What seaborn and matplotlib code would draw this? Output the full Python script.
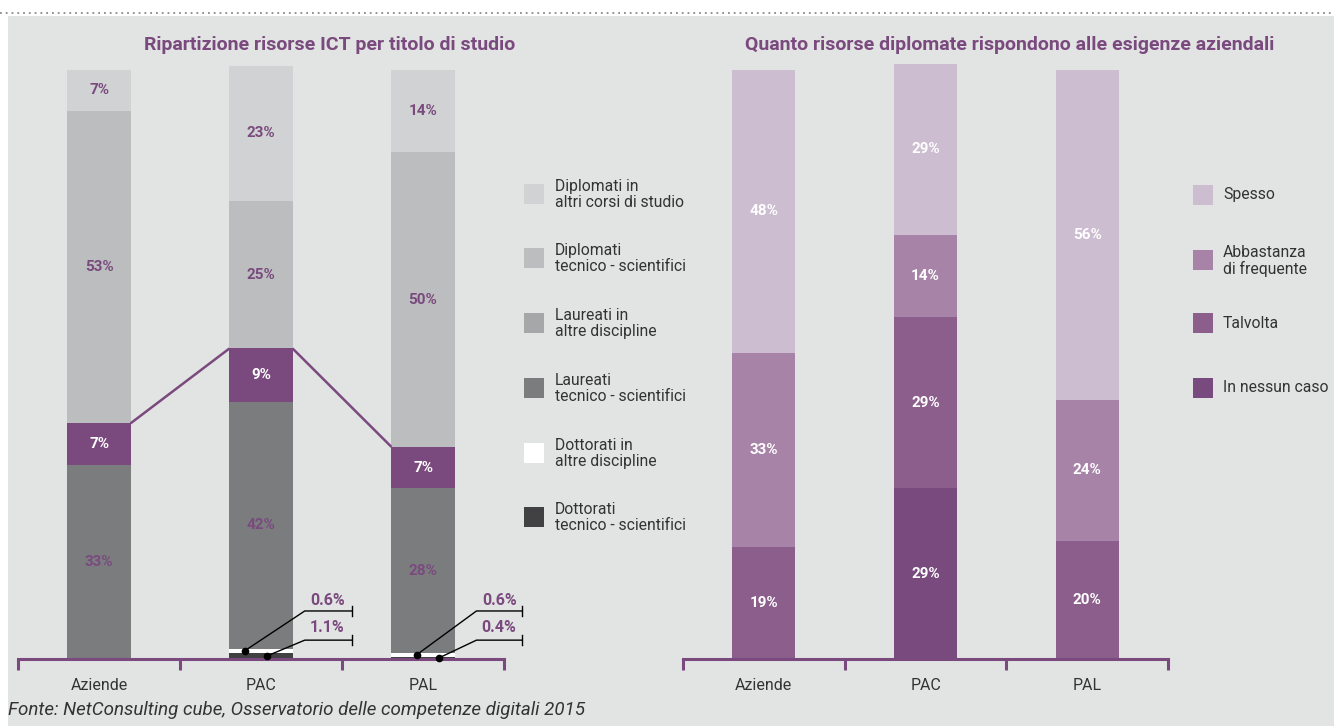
import numpy as np
import pandas as pd
import matplotlib
matplotlib.use("Agg")
import matplotlib.pyplot as plt
import seaborn as sns
from matplotlib.patches import Rectangle
from matplotlib.lines import Line2D

plt.rcParams['font.family'] = ['Roboto', 'DejaVu Sans']

# ---------------- data ----------------
categories = ["Aziende", "PAC", "PAL"]

# left chart (bottom -> top)
edu_labels = ["Dottorati\ntecnico - scientifici", "Dottorati in\naltre discipline",
              "Laureati\ntecnico - scientifici", "Laureati in\naltre discipline",
              "Diplomati\ntecnico - scientifici", "Diplomati in\naltri corsi di studio"]
dott_tec = [0, 1.1, 0.4]
dott_altre = [0, 0.6, 0.6]
laur_tec = [33, 42, 28]
laur_altre = [7, 9, 7]
dipl_tec = [53, 25, 50]
dipl_altri = [7, 23, 14]

# right chart (bottom -> top)
resp_labels = ["In nessun caso", "Talvolta", "Abbastanza\ndi frequente", "Spesso"]
nessun = [0, 29, 0]
talvolta = [19, 29, 20]
abbastanza = [33, 14, 24]
spesso = [48, 29, 56]

title_left = "Ripartizione risorse ICT per titolo di studio"
title_right = "Quanto risorse diplomate rispondono alle esigenze aziendali"
source = "Fonte: NetConsulting cube, Osservatorio delle competenze digitali 2015"

# ---------------- style ----------------
W, H = 1334, 726
PURPLE = "#7a4a7e"
BG = "#e2e3e3"
TXT = "#333333"
edu_colors = ["#414143", "#ffffff", "#7b7c7e", PURPLE, "#bcbdbf", "#d1d2d3"]
edu_legend_colors = ["#414143", "#ffffff", "#7b7c7e", "#a6a7a9", "#bcbdbf", "#d1d2d3"]
edu_text_colors = [PURPLE, PURPLE, PURPLE, "white", PURPLE, PURPLE]
resp_colors = ["#784a7d", "#8b5e8c", "#a683a7", "#cdbdd0"]
BAR_W = 0.39


def fx(x):
    return x / W


def fy(y):
    return 1 - y / H


fig = plt.figure(figsize=(W / 100, H / 100), dpi=100)
fig.patch.set_facecolor("white")
fig.add_artist(Rectangle((fx(8), 0), 1, fy(16), transform=fig.transFigure,
                         facecolor=BG, edgecolor="none", zorder=0))
fig.add_artist(Line2D([0, 1], [fy(13), fy(13)], transform=fig.transFigure,
                      color="#8a8a8a", lw=1.3, linestyle=(0, (1, 2.2))))


def make_ax(left_px, width_px):
    ax = fig.add_axes([fx(left_px), fy(659), width_px / W, 601 / H])
    ax.set_facecolor("none")
    return ax


def style_ax(ax):
    ax.set_xlim(-0.5, 2.5)
    ax.set_ylim(0, 102)
    for s in ["left", "right", "top"]:
        ax.spines[s].set_visible(False)
    ax.spines["bottom"].set_color(PURPLE)
    ax.spines["bottom"].set_linewidth(2.2)
    ax.set_yticks([])
    ax.set_xticks([-0.5, 0.5, 1.5, 2.5])
    ax.set_xticklabels([])
    ax.tick_params(axis="x", which="major", length=8, width=2.2, color=PURPLE, direction="out")
    ax.set_xticks([0, 1, 2], minor=True)
    ax.set_xticklabels(categories, minor=True)
    ax.tick_params(axis="x", which="minor", length=0, pad=14, labelsize=11.5, labelcolor=TXT)
    ax.set_xlabel("")
    ax.set_ylabel("")


def stacked(ax, layers, colors):
    arr = np.array(layers, dtype=float)
    cum = np.cumsum(arr, axis=0)
    for i in range(len(layers) - 1, -1, -1):
        df = pd.DataFrame({"cat": categories, "val": cum[i]})
        sns.barplot(data=df, x="cat", y="val", order=categories, color=colors[i],
                    saturation=1, width=BAR_W, linewidth=0, ax=ax, zorder=2)
    return arr, cum


# ---------------- left chart ----------------
axL = make_ax(18, 486)
edu_layers = [dott_tec, dott_altre, laur_tec, laur_altre, dipl_tec, dipl_altri]
arrL, cumL = stacked(axL, edu_layers, edu_colors)
style_ax(axL)

for i in range(len(edu_layers)):
    for j in range(len(categories)):
        v = arrL[i, j]
        if v >= 5:
            axL.text(j, cumL[i, j] - v / 2, f"{v:.0f}%", ha="center", va="center",
                     color=edu_text_colors[i], fontsize=11, fontweight="bold", zorder=5)

# connecting line on top of "Laureati in altre discipline"
tops = cumL[3]
xs, ys = [], []
for j in range(len(categories) - 1):
    xs += [j + BAR_W / 2, j + 1 - BAR_W / 2, np.nan]
    ys += [tops[j], tops[j + 1], np.nan]
axL.plot(xs, ys, color=PURPLE, lw=1.8, zorder=3, solid_capstyle="butt")

# leader annotations for tiny values
lead = {1: dict(dots=[-0.10, 0.04], elbow=0.27, end=0.56, lab=0.41),
        2: dict(dots=[-0.04, 0.10], elbow=0.33, end=0.61, lab=0.47)}
line_y = [8.15, 3.2]
lab_y = [9.85, 5.3]
for j, p in lead.items():
    items = [(dott_altre[j], cumL[1, j] - dott_altre[j] / 2),
             (dott_tec[j], cumL[0, j] - dott_tec[j] / 2)]
    for k, (v, ymid) in enumerate(items):
        x0 = j + p["dots"][k]
        axL.plot([x0, j + p["elbow"], j + p["end"]], [ymid, line_y[k], line_y[k]],
                 color="black", lw=1, zorder=6, clip_on=False)
        axL.plot([j + p["end"]] * 2, [line_y[k] - 0.85, line_y[k] + 0.85],
                 color="black", lw=1, zorder=6, clip_on=False)
        axL.plot([x0], [ymid], "o", color="black", ms=4.5, zorder=7, clip_on=False)
        axL.text(j + p["lab"], lab_y[k], f"{v:.1f}%", ha="center", va="center",
                 color=PURPLE, fontsize=11.5, fontweight="bold", zorder=6)

# ---------------- right chart ----------------
axR = make_ax(683, 485)
resp_layers = [nessun, talvolta, abbastanza, spesso]
arrR, cumR = stacked(axR, resp_layers, resp_colors)
style_ax(axR)
for i in range(len(resp_layers)):
    for j in range(len(categories)):
        v = arrR[i, j]
        if v >= 5:
            axR.text(j, cumR[i, j] - v / 2, f"{v:.0f}%", ha="center", va="center",
                     color="white", fontsize=11, fontweight="bold", zorder=5)

# ---------------- titles ----------------
fig.text(fx(330), fy(45), title_left, ha="center", va="center", color=PURPLE,
         fontsize=14, fontweight="bold")
fig.text(fx(1010), fy(45), title_right, ha="center", va="center", color=PURPLE,
         fontsize=14, fontweight="bold")

# ---------------- legends ----------------
leg_left_y = [507, 443, 378, 313, 248, 184]  # bottom-layer first
for i, lab in enumerate(edu_labels):
    y = leg_left_y[i]
    fig.add_artist(Rectangle((fx(524), fy(y + 20)), 20 / W, 20 / H, transform=fig.transFigure,
                             facecolor=edu_legend_colors[i], edgecolor="none"))
    fig.text(fx(555), fy(y - 5), lab, ha="left", va="top", color=TXT, fontsize=11.3,
             linespacing=1.1)

leg_right_y = [378, 313, 250, 185]
for i, lab in enumerate(resp_labels):
    y = leg_right_y[i]
    fig.add_artist(Rectangle((fx(1193), fy(y + 20)), 20 / W, 20 / H, transform=fig.transFigure,
                             facecolor=resp_colors[i], edgecolor="none"))
    if "\n" in lab:
        fig.text(fx(1223), fy(y - 5), lab, ha="left", va="top", color=TXT, fontsize=11.3,
                 linespacing=1.1)
    else:
        fig.text(fx(1223), fy(y + 10), lab, ha="left", va="center", color=TXT, fontsize=11.3)

# ---------------- source ----------------
fig.text(fx(8), fy(710), source, ha="left", va="center", color=TXT, fontsize=13.5,
         fontstyle="italic")

fig.savefig("out.png", dpi=100, facecolor=fig.get_facecolor())
